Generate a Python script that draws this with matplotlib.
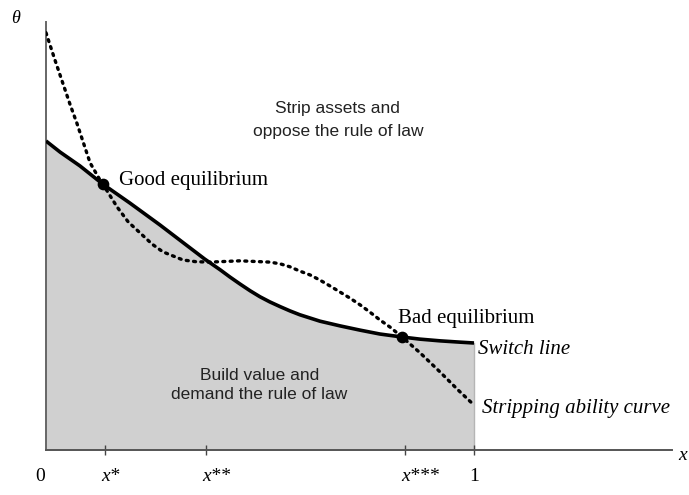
import matplotlib
matplotlib.use("Agg")
import matplotlib.pyplot as plt

# curves (x in 0..1, theta in 0..1)
strip_x = [0.0, 0.021, 0.040, 0.056, 0.072, 0.089, 0.103, 0.126, 0.133, 0.166,
           0.192, 0.220, 0.248, 0.273, 0.320, 0.350, 0.383, 0.453, 0.523, 0.547,
           0.570, 0.593, 0.617, 0.640, 0.664, 0.687, 0.710, 0.734, 0.757, 0.780,
           0.804, 0.832, 0.874, 0.921, 0.963, 1.0]
strip_y = [0.975, 0.911, 0.855, 0.808, 0.764, 0.713, 0.671, 0.631, 0.621, 0.568,
           0.533, 0.507, 0.481, 0.463, 0.444, 0.440, 0.439, 0.442, 0.439, 0.435,
           0.428, 0.418, 0.409, 0.397, 0.383, 0.369, 0.355, 0.339, 0.322, 0.304,
           0.287, 0.264, 0.227, 0.182, 0.140, 0.105]

switch_x = [0.0, 0.033, 0.079, 0.133, 0.196, 0.266, 0.325, 0.371, 0.407, 0.430,
            0.453, 0.477, 0.500, 0.523, 0.547, 0.570, 0.593, 0.640, 0.687, 0.734,
            0.780, 0.832, 0.874, 0.921, 0.967, 1.0]
switch_y = [0.722, 0.696, 0.664, 0.621, 0.577, 0.526, 0.481, 0.446, 0.421, 0.404,
            0.388, 0.372, 0.358, 0.346, 0.335, 0.325, 0.316, 0.301, 0.290, 0.280,
            0.271, 0.264, 0.259, 0.255, 0.252, 0.250]

eq_x = [0.133, 0.832]
eq_y = [0.621, 0.264]

tick_pos = [0.138, 0.374, 0.839, 1.0]
tick_labels = ["x*", "x**", "x***", "1"]

serif = "Liberation Serif"
sans = "Liberation Sans"

fig = plt.figure(figsize=(6.89, 4.95), dpi=100)
ax = fig.add_axes([46 / 689, 45 / 495, 626 / 689, 428 / 495])
ax.set_xlim(0, 1.4626)
ax.set_ylim(0, 1.0)

# shaded region under the switch line
ax.fill_between(switch_x, 0, switch_y, color="#d0d0d0", lw=0, zorder=1)
ax.plot([1.0, 1.0], [0, switch_y[-1]], color="#b5b5b5", lw=1, zorder=1)

ax.plot(switch_x, switch_y, color="black", lw=2.6, solid_capstyle="butt",
        solid_joinstyle="round", zorder=3)
ax.plot(strip_x, strip_y, color="black", lw=2.4, dashes=(0.6, 1.6),
        dash_capstyle="round", zorder=3)
ax.scatter(eq_x, eq_y, s=55, color="black", zorder=4)

# axes: only left and bottom lines
for s in ["top", "right"]:
    ax.spines[s].set_visible(False)
ax.spines["left"].set_color("#666666")
ax.spines["bottom"].set_color("#555555")
ax.spines["left"].set_linewidth(1.4)
ax.spines["bottom"].set_linewidth(1.4)
ax.set_yticks([])
ax.set_xticks(tick_pos)
ax.set_xticklabels([])
ax.tick_params(axis="x", direction="inout", length=7, width=1, color="#444444")

# tick labels
ax.text(-0.014, -0.063, "0", family=serif, fontsize=14, ha="center", va="center")
for p, lab in zip(tick_pos, tick_labels):
    if lab == "1":
        ax.text(p, -0.063, lab, family=serif, fontsize=14, ha="center", va="center")
    else:
        ax.text(p - 0.009, -0.063, lab, family=serif, style="italic", fontsize=14,
                ha="left", va="center")

ax.text(-0.072, 1.009, "θ", family=serif, style="italic", fontsize=13,
        ha="center", va="center", clip_on=False)
ax.text(1.488, -0.012, "x", family=serif, style="italic", fontsize=14,
        ha="center", va="center", clip_on=False)

# annotations
ax.text(0.682, 0.771, "Strip assets and\noppose the rule of law", family=sans,
        fontsize=12.5, ha="center", va="center", linespacing=1.6, color="#222222")
ax.text(0.498, 0.152, "Build value and\ndemand the rule of law", family=sans,
        fontsize=12.5, ha="center", va="center", linespacing=1.35, color="#222222")
ax.text(0.171, 0.629, "Good equilibrium", family=serif, fontsize=15,
        ha="left", va="center")
ax.text(0.822, 0.308, "Bad equilibrium", family=serif, fontsize=15,
        ha="left", va="center")
ax.text(1.009, 0.234, "Switch line", family=serif, style="italic", fontsize=15,
        ha="left", va="center")
ax.text(1.019, 0.098, "Stripping ability curve", family=serif, style="italic",
        fontsize=15, ha="left", va="center")

fig.savefig("out.png", dpi=100)
